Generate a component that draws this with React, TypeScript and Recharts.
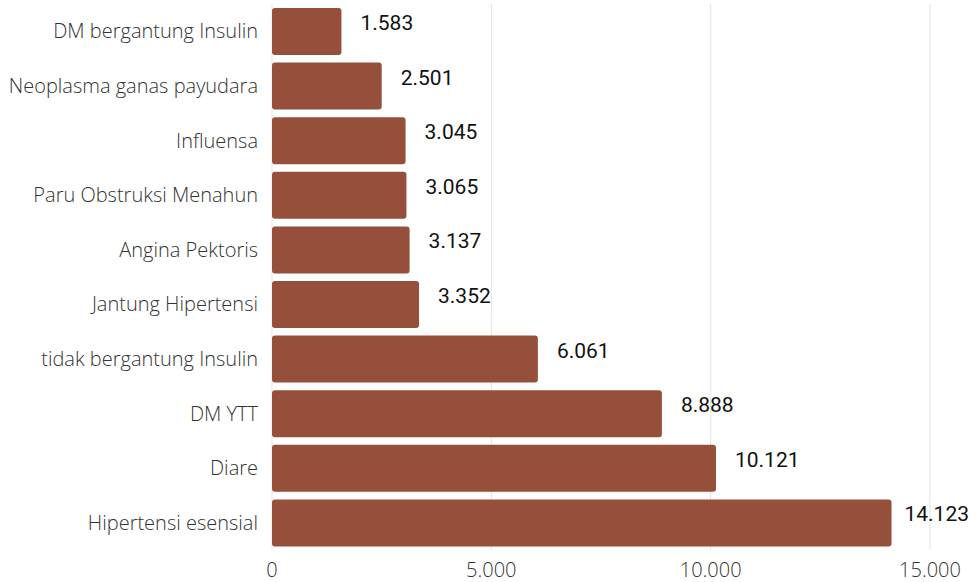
import { BarChart, Bar, XAxis, YAxis, CartesianGrid, LabelList } from 'recharts'

const categories = [
  'DM bergantung Insulin',
  'Neoplasma ganas payudara',
  'Influensa',
  'Paru Obstruksi Menahun',
  'Angina Pektoris',
  'Jantung Hipertensi',
  'tidak bergantung Insulin',
  'DM YTT',
  'Diare',
  'Hipertensi esensial'
]

const cases = [1583, 2501, 3045, 3065, 3137, 3352, 6061, 8888, 10121, 14123]

const xTicks = [0, 5000, 10000, 15000]

const data = categories.map((name, i) => ({ name, value: cases[i] }))

const fmt = (v: number) => v.toLocaleString('de-DE')

const ValueLabel = (props: any) => {
  const { x, y, width, height, value } = props
  const start = x + width + 19
  // keep the widest label inside the chart's right edge
  const tooWide = start + 64 > 970
  return (
    <text
      x={tooWide ? 969 : start}
      y={y + height / 2 - 7}
      textAnchor={tooWide ? 'end' : 'start'}
      dominantBaseline="middle"
      fontFamily="Roboto"
      fontSize={21}
      fill="#111"
    >
      {fmt(value)}
    </text>
  )
}

export default function App() {
  return (
    <div style={{ position: 'absolute', left: 0, top: 0, background: '#fff' }}>
      <BarChart
        width={972}
        height={582}
        data={data}
        layout="vertical"
        margin={{ top: 4, right: 42, left: 0, bottom: 0 }}
        barCategoryGap={4}
      >
        <CartesianGrid vertical horizontal={false} stroke="#e3e3e3" />
        <XAxis
          type="number"
          domain={[0, 15000]}
          ticks={xTicks}
          tickFormatter={fmt}
          axisLine={false}
          tickLine={false}
          height={32}
          tick={{ fontFamily: 'Open Sans', fontWeight: 300, fontSize: 20, fill: '#333' }}
          tickMargin={7}
        />
        <YAxis
          type="category"
          dataKey="name"
          width={272}
          axisLine={false}
          tickLine={false}
          tickMargin={8}
          interval={0}
          tick={{ fontFamily: 'Open Sans', fontWeight: 300, fontSize: 20, fill: '#333' }}
        />
        <Bar
          dataKey="value"
          fill="#964f3b"
          radius={3}
          isAnimationActive={false}
        >
          <LabelList dataKey="value" content={<ValueLabel />} />
        </Bar>
      </BarChart>
    </div>
  )
}
